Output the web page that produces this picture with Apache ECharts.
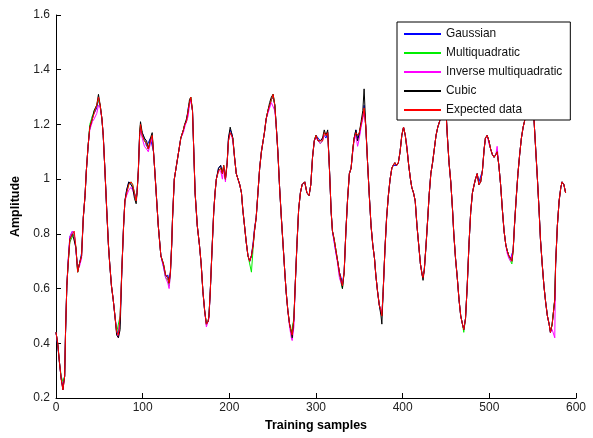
<!DOCTYPE html>
<html>
<head>
<meta charset="utf-8">
<script src="https://cdn.jsdelivr.net/npm/echarts@6/dist/echarts.min.js"></script>
<style>
html,body{margin:0;padding:0;background:#fff;}
#chart{width:593px;height:438px;}
</style>
</head>
<body>
<div id="chart"></div>
<script>
const samples = [0,2,4,6,8,10,11,12.5,14,16,
19,21,23,25,27,29.5,31.5,33.5,35,37,
39,42,44,47,49,51,53,54.5,56.5,58.5,
60.5,62,64,66,68,70,72,74,76,78,
79.5,81.5,84,86.5,88.5,90.5,92.5,93.5,95,96.5,
97.5,99.5,102,104.5,106.5,109,111,112.5,114,116,
118,121,124,126.5,129,130.5,132,133.5,134.5,136.5,
139,142,144,147,148.5,150.5,152.5,154,155.5,157.5,
159,160.5,163,165.5,167.5,169.5,171.5,173.5,175.5,176.5,
178,180,182,183.5,185,187.5,190,192,193.5,195.5,
197.5,199,201,202.5,204,206,208,210,212,214,
215.5,217.5,219.5,221.5,223.5,225.5,227.5,229,231,233,
235,237,239,240.5,242.5,244.5,246.5,248.5,250.5,252.5,
254,256,258,260,262,264,265.5,267.5,269.5,271.5,
272.5,274.5,276,278,280,282,284,287,289.5,292,
294,296,298,300,302.5,305,307.5,309.5,311.5,313.5,
315.5,317.5,319,321,323,325,327,329,330.5,332.5,
334.5,336.5,338.5,340.5,342.5,344,346,348,350,352,
354,355.5,357.5,359.5,361.5,363.5,365.5,367.5,369,371,
373,375,376,377.5,379.5,381.5,383.5,385.5,387.5,389,
391,393,395,397,399,401,403,405,407,409,
410.5,412.5,414.5,416.5,418.5,420.5,422.5,423.5,425,427,
429,430.5,432.5,434.5,436.5,438.5,440.5,442.5,444,446,
448,450.5,451.5,453.5,455.5,457.5,459,461,463,465,
467,469,470.5,472.5,474.5,476.5,478.5,480.5,482.5,484,
486,488,490,492,494,495.5,497.5,499.5,501.5,503.5,
505.5,507.5,509,511,513,515,517,519,520.5,522.5,
524.5,526,527.5,529,531,533,535,537,539,540.5,
542.5,545,548,551.5,553.5,555.5,557.5,559,561,563,
565,567,569,570.5,572.5,575.5,576.5,578.5,580.5,582.5,
584,586,588];

const expectedData = [.44,.40,.33,.27,.23,.28,.44,.61,.69,.78,
.80,.81,.75,.66,.69,.72,.86,.94,1.03,1.12,
1.19,1.22,1.24,1.27,1.30,1.27,1.22,1.16,1.03,.89,
.76,.69,.61,.56,.50,.44,.43,.50,.67,.83,
.92,.95,.98,.99,.98,.95,.92,.95,1.03,1.16,
1.20,1.16,1.14,1.13,1.11,1.14,1.16,1.10,1.03,.93,
.83,.72,.69,.65,.64,.62,.66,.76,.86,1.00,
1.05,1.11,1.15,1.18,1.20,1.21,1.25,1.28,1.30,1.25,
1.10,.95,.83,.76,.69,.59,.52,.47,.48,.50,
.59,.74,.88,.95,1.00,1.03,1.04,1.02,1.05,1.00,
1.06,1.14,1.17,1.17,1.15,1.08,1.02,1.00,.98,.95,
.89,.83,.77,.72,.70,.72,.76,.81,.86,.95,
1.04,1.10,1.14,1.17,1.22,1.25,1.27,1.29,1.31,1.27,
1.20,1.10,.97,.86,.76,.66,.59,.52,.47,.44,
.43,.49,.61,.76,.89,.95,.98,.99,.95,.94,
.98,1.08,1.14,1.16,1.14,1.14,1.14,1.17,1.16,1.17,
1.04,.88,.81,.78,.74,.70,.66,.63,.61,.66,
.81,.93,1.02,1.04,1.11,1.15,1.17,1.16,1.17,1.20,
1.23,1.26,1.19,1.06,.94,.83,.76,.71,.65,.59,
.54,.52,.50,.59,.74,.86,.94,1.00,1.04,1.05,
1.06,1.05,1.06,1.10,1.16,1.19,1.16,1.11,1.05,1.00,
.97,.95,.92,.83,.76,.69,.65,.64,.67,.76,
.86,.94,1.02,1.06,1.11,1.16,1.19,1.21,1.23,1.27,
1.30,1.22,1.16,1.06,.99,.89,.80,.71,.64,.56,
.50,.47,.45,.49,.61,.76,.88,.95,.98,1.00,
1.02,.98,.99,1.03,1.11,1.15,1.16,1.14,1.11,1.09,
1.08,1.09,1.10,1.05,.98,.89,.81,.76,.74,.72,
.71,.70,.74,.83,.93,1.02,1.09,1.15,1.19,1.21,
1.25,1.27,1.30,1.22,1.11,1.00,.88,.78,.69,.61,
.55,.50,.47,.44,.47,.56,.69,.83,.92,.97,
.99,.98,.95];

const gaussian = [.44,.39,.33,.27,.24,.28,.44,.61,.70,.79,
.81,.80,.74,.67,.69,.73,.86,.94,1.03,1.12,
1.19,1.23,1.24,1.26,1.29,1.27,1.22,1.16,1.03,.89,
.76,.69,.61,.56,.50,.45,.43,.49,.67,.83,
.92,.96,.99,.98,.97,.95,.93,.95,1.03,1.16,
1.19,1.17,1.15,1.12,1.12,1.15,1.15,1.10,1.03,.93,
.83,.72,.68,.64,.65,.63,.66,.76,.86,1.00,
1.05,1.11,1.15,1.18,1.20,1.21,1.26,1.28,1.29,1.25,
1.10,.95,.83,.76,.69,.59,.52,.47,.48,.50,
.59,.74,.88,.95,1.00,1.04,1.05,1.02,1.04,1.00,
1.06,1.15,1.18,1.17,1.15,1.08,1.02,1.00,.98,.95,
.89,.83,.77,.72,.70,.72,.77,.82,.86,.95,
1.04,1.10,1.14,1.17,1.22,1.25,1.27,1.29,1.30,1.27,
1.20,1.10,.97,.86,.76,.66,.59,.52,.47,.44,
.43,.49,.61,.76,.89,.95,.98,.99,.95,.94,
.98,1.08,1.14,1.16,1.15,1.14,1.15,1.16,1.15,1.17,
1.04,.88,.81,.77,.73,.70,.66,.64,.62,.66,
.81,.93,1.02,1.04,1.11,1.15,1.18,1.15,1.16,1.20,
1.23,1.27,1.19,1.06,.94,.83,.76,.71,.65,.59,
.54,.51,.50,.59,.74,.86,.94,1.00,1.04,1.05,
1.05,1.05,1.06,1.10,1.16,1.19,1.16,1.11,1.05,1.00,
.97,.95,.92,.83,.76,.69,.65,.64,.67,.76,
.86,.94,1.02,1.06,1.11,1.16,1.19,1.21,1.23,1.27,
1.30,1.22,1.16,1.06,.99,.89,.80,.71,.64,.56,
.50,.47,.45,.49,.61,.76,.88,.95,.98,1.00,
1.02,.99,.99,1.03,1.11,1.15,1.16,1.14,1.11,1.09,
1.08,1.09,1.10,1.05,.98,.89,.81,.76,.74,.72,
.71,.71,.74,.83,.93,1.02,1.09,1.15,1.19,1.21,
1.25,1.27,1.30,1.22,1.11,1.00,.88,.78,.69,.61,
.55,.50,.47,.44,.47,.56,.69,.83,.92,.97,
.99,.98,.95];

const multiquadratic = [.44,.40,.33,.28,.26,.28,.44,.61,.69,.77,
.79,.80,.75,.66,.69,.72,.86,.94,1.03,1.12,
1.20,1.23,1.25,1.27,1.29,1.27,1.22,1.16,1.03,.89,
.76,.69,.61,.56,.50,.44,.44,.50,.67,.83,
.92,.95,.98,.99,.98,.95,.92,.95,1.03,1.16,
1.20,1.16,1.14,1.13,1.11,1.14,1.16,1.10,1.03,.93,
.83,.72,.69,.64,.63,.61,.65,.76,.86,1.00,
1.05,1.11,1.15,1.18,1.20,1.21,1.25,1.28,1.30,1.25,
1.10,.95,.83,.76,.69,.59,.52,.47,.48,.50,
.59,.74,.88,.95,1.00,1.03,1.04,1.02,1.05,1.00,
1.06,1.14,1.17,1.17,1.15,1.08,1.02,1.00,.98,.95,
.89,.83,.77,.72,.69,.66,.75,.81,.86,.95,
1.04,1.10,1.14,1.17,1.22,1.25,1.27,1.29,1.31,1.27,
1.20,1.10,.97,.86,.76,.66,.59,.52,.47,.44,
.44,.49,.61,.76,.89,.95,.98,.99,.95,.94,
.98,1.08,1.14,1.16,1.14,1.13,1.14,1.17,1.16,1.17,
1.04,.88,.81,.78,.74,.70,.65,.62,.60,.66,
.81,.93,1.02,1.04,1.11,1.15,1.17,1.16,1.17,1.20,
1.23,1.26,1.19,1.06,.94,.83,.76,.71,.65,.59,
.54,.52,.50,.59,.74,.86,.94,1.00,1.04,1.05,
1.06,1.05,1.06,1.10,1.16,1.19,1.16,1.11,1.05,1.00,
.97,.95,.92,.83,.76,.69,.65,.64,.67,.76,
.86,.94,1.02,1.06,1.11,1.16,1.19,1.21,1.23,1.27,
1.30,1.22,1.16,1.06,.99,.89,.80,.71,.64,.56,
.50,.47,.44,.49,.61,.76,.88,.95,.98,1.00,
1.02,.98,.99,1.03,1.11,1.15,1.16,1.14,1.11,1.09,
1.08,1.09,1.10,1.05,.98,.89,.81,.76,.74,.72,
.70,.69,.74,.83,.93,1.02,1.09,1.15,1.19,1.21,
1.25,1.27,1.30,1.22,1.11,1.00,.88,.78,.69,.61,
.55,.50,.47,.44,.47,.56,.69,.83,.92,.97,
.99,.98,.95];

const inverseMultiquadratic = [.44,.40,.33,.27,.23,.28,.44,.61,.70,.79,
.81,.80,.74,.67,.68,.71,.86,.94,1.03,1.12,
1.18,1.21,1.22,1.24,1.27,1.26,1.22,1.16,1.03,.89,
.76,.69,.61,.56,.50,.44,.42,.48,.67,.83,
.92,.94,.96,.97,.96,.94,.93,.95,1.03,1.16,
1.18,1.15,1.12,1.11,1.10,1.13,1.15,1.10,1.03,.93,
.83,.72,.68,.64,.62,.60,.65,.76,.86,1.00,
1.05,1.11,1.15,1.17,1.19,1.19,1.23,1.27,1.29,1.25,
1.10,.95,.83,.76,.69,.59,.52,.46,.46,.49,
.59,.74,.88,.95,1.00,1.03,1.03,1.00,1.04,.99,
1.06,1.14,1.17,1.16,1.14,1.08,1.02,1.00,.98,.95,
.89,.83,.77,.72,.70,.72,.76,.81,.86,.95,
1.04,1.10,1.14,1.17,1.22,1.24,1.26,1.28,1.28,1.25,
1.20,1.10,.97,.86,.76,.66,.59,.52,.46,.42,
.41,.46,.61,.76,.89,.95,.98,.99,.95,.94,
.98,1.08,1.14,1.15,1.14,1.13,1.14,1.16,1.16,1.17,
1.04,.88,.81,.77,.73,.69,.64,.62,.61,.66,
.81,.93,1.02,1.04,1.10,1.14,1.16,1.12,1.15,1.19,
1.22,1.25,1.19,1.06,.94,.83,.76,.71,.65,.59,
.54,.52,.51,.58,.74,.86,.94,1.00,1.04,1.05,
1.06,1.05,1.06,1.10,1.16,1.19,1.16,1.12,1.05,1.00,
.97,.95,.92,.83,.76,.69,.65,.64,.67,.76,
.86,.94,1.02,1.06,1.11,1.16,1.19,1.21,1.23,1.27,
1.30,1.22,1.16,1.06,.99,.89,.80,.71,.64,.56,
.50,.47,.45,.49,.61,.76,.88,.95,.98,1.00,
1.02,.98,.99,1.03,1.11,1.15,1.16,1.13,1.11,1.09,
1.08,1.09,1.12,1.05,.98,.89,.81,.76,.73,.71,
.70,.70,.74,.83,.93,1.02,1.09,1.15,1.19,1.21,
1.25,1.27,1.30,1.22,1.11,1.00,.88,.78,.69,.61,
.55,.50,.47,.44,.45,.42,.69,.83,.92,.97,
.99,.98,.95];

const cubic = [.44,.40,.33,.27,.23,.28,.44,.61,.69,.78,
.80,.80,.75,.66,.69,.72,.86,.94,1.03,1.12,
1.19,1.22,1.25,1.27,1.31,1.27,1.22,1.16,1.03,.89,
.76,.69,.61,.56,.50,.43,.42,.45,.67,.83,
.92,.96,.99,.98,.97,.93,.91,.95,1.03,1.17,
1.21,1.17,1.15,1.14,1.11,1.15,1.17,1.10,1.03,.93,
.83,.72,.69,.65,.64,.62,.66,.76,.86,1.00,
1.05,1.11,1.15,1.18,1.20,1.22,1.25,1.29,1.30,1.25,
1.10,.95,.83,.76,.69,.59,.52,.47,.48,.50,
.59,.74,.88,.95,1.00,1.04,1.05,1.02,1.05,1.00,
1.06,1.15,1.19,1.17,1.15,1.08,1.02,1.00,.98,.95,
.89,.83,.77,.72,.70,.72,.76,.81,.86,.95,
1.04,1.10,1.14,1.17,1.22,1.25,1.28,1.30,1.31,1.27,
1.20,1.10,.97,.86,.76,.66,.59,.52,.47,.44,
.42,.49,.61,.76,.89,.95,.98,.99,.95,.94,
.98,1.08,1.14,1.16,1.14,1.14,1.15,1.18,1.16,1.18,
1.04,.88,.81,.78,.74,.70,.66,.63,.60,.66,
.81,.93,1.02,1.04,1.11,1.15,1.18,1.14,1.17,1.21,
1.25,1.33,1.19,1.06,.94,.83,.76,.71,.65,.59,
.54,.50,.47,.59,.74,.86,.94,1.00,1.04,1.05,
1.06,1.05,1.06,1.10,1.16,1.19,1.16,1.11,1.05,1.00,
.97,.95,.92,.83,.76,.69,.65,.63,.67,.76,
.86,.94,1.02,1.06,1.11,1.16,1.19,1.21,1.23,1.27,
1.30,1.22,1.16,1.06,.99,.89,.80,.71,.64,.56,
.50,.47,.45,.49,.61,.76,.88,.95,.98,1.00,
1.02,.98,.99,1.03,1.11,1.15,1.16,1.14,1.11,1.09,
1.08,1.09,1.10,1.05,.98,.89,.81,.76,.74,.72,
.71,.70,.74,.83,.93,1.02,1.09,1.15,1.19,1.21,
1.25,1.27,1.30,1.22,1.11,1.00,.88,.78,.69,.61,
.55,.50,.47,.44,.47,.56,.69,.83,.92,.97,
.99,.98,.95];

const seriesNames = ['Gaussian','Multiquadratic','Inverse multiquadratic','Cubic','Expected data'];
const seriesValues = [gaussian, multiquadratic, inverseMultiquadratic, cubic, expectedData];
const seriesColors = ['#0000ff','#00ee00','#ff00ff','#000000','#ff0000'];
const xTicks = [0,100,200,300,400,500,600];

function pairs(vals){ return samples.map((s,i)=>[s, vals[i]]); }

const chart = echarts.init(document.getElementById('chart'), null, {renderer:'canvas'});
const axisFont = {fontFamily:'Liberation Sans, Arial, sans-serif', fontSize:12, color:'#222'};
chart.setOption({
  animation:false,
  backgroundColor:'#fff',
  grid:{left:56, right:17, top:15, bottom:40, containLabel:false},
  xAxis:{
    type:'value', min:0, max:600, interval:100,
    name:'Training samples', nameLocation:'middle', nameGap:21,
    nameTextStyle:{fontFamily:'Liberation Sans, Arial, sans-serif', fontSize:12.5, fontWeight:'bold', color:'#000'},
    axisLine:{show:true, lineStyle:{color:'#000', width:1}},
    axisTick:{show:true, inside:true, length:5, lineStyle:{color:'#000'}},
    axisLabel:Object.assign({margin:4}, axisFont),
    splitLine:{show:false}
  },
  yAxis:{
    type:'value', min:0.2, max:1.6, interval:0.2,
    name:'Amplitude', nameLocation:'middle', nameGap:20, nameRotate:90,
    nameTextStyle:{fontFamily:'Liberation Sans, Arial, sans-serif', fontSize:12.5, fontWeight:'bold', color:'#000'},
    axisLine:{show:true, lineStyle:{color:'#000', width:1}},
    axisTick:{show:true, inside:true, length:5, lineStyle:{color:'#000'}},
    axisLabel:Object.assign({margin:6, formatter:v=>String(Math.round(v*10)/10)}, axisFont),
    splitLine:{show:false}
  },
  legend:{
    orient:'vertical', left:397, top:22,
    z:20, zlevel:1,
    padding:[5,8,3,7],
    itemGap:5, itemWidth:37, itemHeight:2, icon:'rect',
    backgroundColor:'#fff', borderColor:'#000', borderWidth:1, borderRadius:0,
    textStyle:{fontFamily:'Liberation Sans, Arial, sans-serif', fontSize:11.9, color:'#111', lineHeight:14},
    data:seriesNames
  },
  series: seriesNames.map((n,i)=>({
    name:n, type:'line', data:pairs(seriesValues[i]),
    showSymbol:false, symbol:'none',
    lineStyle:{color:seriesColors[i], width:1},
    itemStyle:{color:seriesColors[i]},
    z:2+i
  }))
});
</script>
</body>
</html>
